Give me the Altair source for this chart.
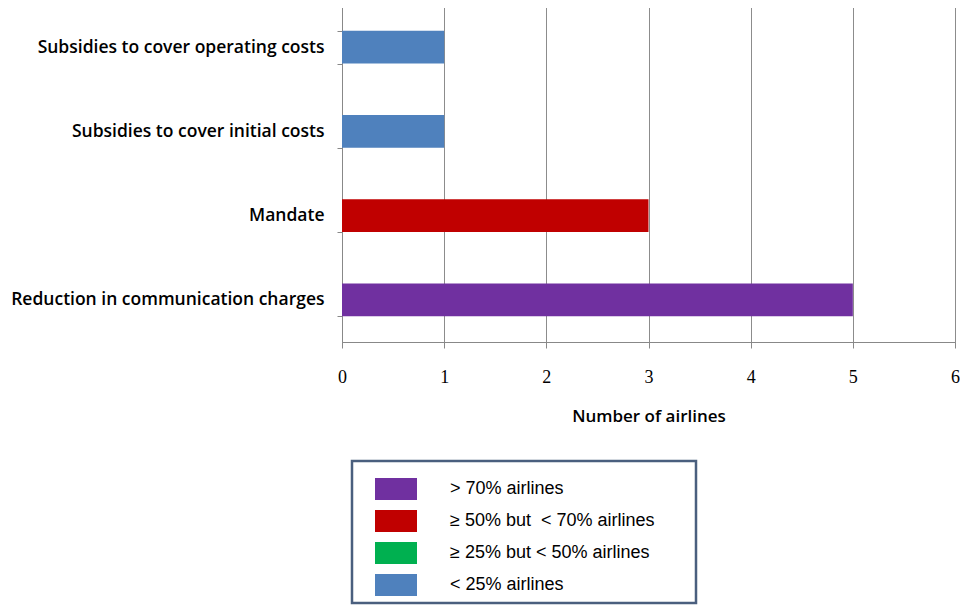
import altair as alt
import pandas as pd

categories = [
    "Subsidies to cover operating costs",
    "Subsidies to cover initial costs",
    "Mandate",
    "Reduction in communication charges",
]
values = [1, 1, 3, 5]
groups = ["< 25% airlines", "< 25% airlines", "\u2265 50% but\u00a0 < 70% airlines", "> 70% airlines"]

legend_labels = [
    "> 70% airlines",
    "\u2265 50% but\u00a0 < 70% airlines",
    "\u2265 25% but < 50% airlines",
    "< 25% airlines",
]
legend_colors = ["#7030A0", "#C00000", "#00B050", "#4F81BD"]

df = pd.DataFrame({"category": categories, "value": values, "group": groups})

FONT = "Open Sans"

chart = alt.Chart(df).mark_bar().encode(
    y=alt.Y(
        "category:N",
        sort=categories,
        scale=alt.Scale(paddingInner=0.61, paddingOuter=0.305),
        axis=alt.Axis(
            title=None,
            tickBand="extent",
            labelFont=FONT,
            labelFontWeight=600,
            labelFontSize=17.5,
            labelColor="#000000",
            labelPadding=13,
            labelLimit=400,
            tickSize=5,
            tickColor="#888888",
            domainColor="#888888",
            minExtent=334,
            maxExtent=334,
            grid=False,
        ),
    ),
    x=alt.X(
        "value:Q",
        scale=alt.Scale(domain=[0, 6], nice=False),
        axis=alt.Axis(
            title="Number of airlines",
            values=[0, 1, 2, 3, 4, 5, 6],
            format="d",
            labelFlush=False,
            labelFont="Liberation Serif",
            labelFontSize=18,
            labelColor="#000000",
            labelPadding=20,
            tickSize=6,
            tickColor="#888888",
            domainColor="#888888",
            gridColor="#8c8c8c",
            titleFont=FONT,
            titleFontWeight=600,
            titleFontSize=17,
            titleColor="#000000",
            titlePadding=22,
        ),
    ),
    color=alt.Color(
        "group:N",
        scale=alt.Scale(domain=legend_labels, range=legend_colors),
        legend=alt.Legend(
            title="x",
            titleOrient="right",
            titleOpacity=0,
            titleFontSize=18,
            titlePadding=24,
            orient="none",
            legendX=10,
            legendY=456,
            direction="vertical",
            symbolType="M-1,-0.52H1V0.52H-1Z",
            symbolSize=1764,
            symbolStrokeWidth=0,
            symbolOpacity=1,
            symbolOffset=16,
            labelFont="Liberation Sans",
            labelFontSize=18,
            labelColor="#000000",
            labelOffset=33,
            labelLimit=500,
            rowPadding=-10,
            padding=7,
            strokeColor="#4a5f7e",
            fillColor="#ffffff",
        ),
    ),
).properties(
    width=613,
    height=337,
    padding={"left": 0, "top": -12, "right": 0, "bottom": 0},
).configure_view(
    stroke="#8c8c8c"
).configure_legend(
    strokeWidth=2.5
)

chart.save("out.html", embed_options={"renderer": "svg", "actions": False})
